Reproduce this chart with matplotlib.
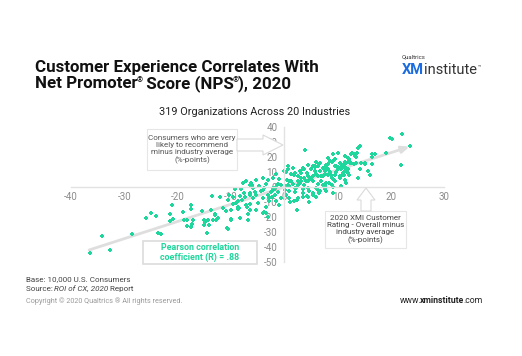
import matplotlib
matplotlib.use('Agg')
import matplotlib.pyplot as plt
from matplotlib.patches import Polygon, Rectangle

# ---------------- data ----------------
x_ticks = [-40, -30, -20, -10, 0, 10, 20, 30]
y_ticks = [40, 30, 20, 10, 0, -10, -20, -30, -40, -50]

cx_rating = [
    -36.5, -34.2, -32.6, -28.5, -26.0, -25.0, -24.0, -23.6, -23.2, -21.4, -21.0, -21.5, -20.8,
    -18.9, -18.7, -18.2, -17.4, -17.4, -15.5, -13.8, -18.3, -17.1, -17.2, -15.1, -13.0, -12.4,
    -14.1, -15.0, -14.3, -13.3, -10.8, -14.5, -13.5, -12.0, -10.6, -10.0, -10.0, -10.6, -11.5,
    -11.0, -12.9, -12.7, -14.9, -17.4, -10.3,
    -9.2, -7.2, -5.3, -6.5, -6.0, -9.6, -8.7, -8.4, -7.9, -7.0, -6.4, -8.3, -7.4, -6.4, -5.5,
    -5.2, -8.3, -6.7, -6.7, -9.1, -8.6, -9.9, -9.6,
    -7.8, -6.2, -4.0, -3.1, -2.1, -1.5, -0.9, -7.5, -6.5, -4.0, -2.8, -1.5, -0.6, -2.8, -3.4,
    -4.0, -5.3, -6.5, -3.4, -8.7, -8.1, -5.9, -4.7, -3.4, -2.1, -1.2, -5.0, -7.2, -1.8, -0.9,
    -4.3, -5.9,
    -0.6, -1.2, -1.8, -2.5, -3.1, -3.7, -4.0, -3.1, -3.7, -1.4, -2.0, -2.3, -0.1,
    0.8, 1.8, 0.5, 3.6, 5.4, 6.6, 7.6, 8.2, 8.8, 9.8, 10.4, 10.7, 5.4, 4.1, 3.2, 1.0, 2.0, 3.0,
    4.7, 6.0, 7.3, 8.5, 9.5, 10.4, 11.3, 6.6, 7.9, 9.1, 10.7, 11.7, 3.6, 2.4, 1.1, 2.4, 4.7, 6.0,
    8.2, 8.6, 7.9, 9.5, 10.1, 9.5, 10.8, 8.9, 8.2, 7.3, 6.9, 6.4, 5.7, 5.1, 4.5, 3.8, 3.2, 2.6,
    1.3, 0.7, 0.1, 2.0, 3.5, 4.5, 5.4, 6.4, 7.6, 8.9, 9.2, 6.7, 5.7, 5.1, 4.5, 3.8, 3.2, 2.6,
    0.7, 1.6, 2.1, 1.3, 0.4, 2.9, 3.5, 4.2, 4.5, 3.8, 2.6, 4.8, 5.4, 6.0, 6.4, 5.7, 6.7, 7.3,
    7.9, 8.2, 8.9, 9.2, 9.5, 10.1, 9.8, 8.6, 7.6, 7.0, 6.0, 1.0, 1.6, 2.3, 0.4, 1.0, 0.4, 1.0,
    1.9, 2.6, 4.2, 5.4, 6.7, 7.6, 3.5, 4.5, 6.4, 7.9, 9.2, 10.4, 11.1, 3.5,
    4.0, 9.2, 10.1, 11.4, 11.4, 10.8,
    12.5, 12.1, 11.5, 13.4, 13.9, 14.2, 13.3, 12.0, 11.7, 12.3, 11.4, 12.0, 11.4, 14.5, 15.2,
    15.8, 14.2, 16.4, 17.0, 16.4, 16.1, 13.8, 19.1, 19.9, 20.2, 22.2, 23.6, 21.9, 16.5, 15.1,
    13.7, 13.1, 12.8, 13.4, 12.1, 12.5, 11.2, 11.5, 11.8, 12.1, 11.9, 13.1,
]
recommend = [
    -44.4, -33.1, -42.2, -31.3, -20.6, -17.5, -19.7, -30.8, -31.5, -17.9, -12.2, -22.9, -21.8,
    -16.8, -22.4, -26.5, -12.2, -15.0, -16.1, -15.6, -22.0, -22.4, -25.2, -22.0, -19.0, -20.6,
    -25.4, -25.9, -22.4, -22.4, -27.4, -30.8, -6.1, -7.0, -8.8, -15.6, -21.3, -28.0, -14.5,
    -16.1, -18.3, -22.0, -23.6, -27.0, -5.6,
    -1.6, 3.6, 4.8, 1.4, 1.4, -11.8, -13.4, -14.5, -8.8, -13.4, -11.8, -6.1, -7.0, -4.3, -3.2,
    -5.4, -20.6, -22.0, -17.9, -11.1, -15.2, -22.0, -7.0,
    2.7, 2.7, 6.1, 4.3, 6.1, 8.4, 5.0, -4.1, -5.2, -7.5, -7.5, -9.8, -7.5, -9.8, -13.2,
    -17.7, -15.4, -15.4, -17.7, -9.8, -1.8, -0.7, 0.5, 1.6, -0.7, 1.6, -10.9, -12.0, -5.2, -12.0,
    -2.9, -7.5,
    1.4, -3.2, -0.9, -3.2, -5.4, -0.9, -2.0, -20.2, -16.8, 1.4, -2.0, -6.6, 10.4,
    11.6, 8.2, 4.8, 12.7, 13.8, 15.0, 10.4, 11.6, 8.2, 13.8, 16.1, 11.6, 7.0, 3.6, 5.9, 0.3, -0.9, 2.5,
    -3.1, -0.9, 1.4, 2.5, 3.6, 5.9, 8.2, -4.3, -3.1, -4.3, 0.3, 2.5, -6.6, -8.8, -9.9, -15.6, -9.9, -6.6,
    19.5, 17.2, 14.9, 18.4, 11.6, 8.2, 8.2, 5.9, 8.2, 7.0, 3.6, 7.0, 10.4, 5.9, 3.6, 1.4, 3.6, 1.4,
    3.6, 1.4, -2.0, -3.2, -4.3, -6.6, -5.4, -2.0, 0.3, 1.4, -0.2, 16.1, 13.8, 11.6, 14.9, 11.6, 9.3, 7.0,
    14.1, 12.5, 9.5, 8.4, 10.2, 10.7, 11.8, 9.5, 7.3, 6.1, 3.9, 5.0, 3.9, 16.3, 14.1, 12.9, 10.7, 12.5,
    13.4, 15.2, 16.3, 17.5, 14.1, 12.9, 10.2, 10.2, 8.4, 7.3, 8.4, 3.9, 1.6, -0.7, 0.5, -2.9, -5.2, -7.5,
    -9.8, -7.5, -6.3, -4.1, -2.9, -1.8, -1.8, -0.7, 1.6, 2.7, 5.0, 7.3, 9.5, -4.1,
    24.3, 22.0, 22.9, 16.3, 12.9, 14.0,
    22.0, 18.4, 20.7, 16.1, 26.1, 27.2, 20.7, 19.5, 16.1, 16.1, 10.4, 9.3, 4.8, 16.1, 15.0,
    10.4, 11.6, 21.8, 21.8, 15.0, 8.2, 5.9, 22.9, 32.9, 31.8, 35.6, 27.0, 14.6, 20.2, 16.1,
    22.9, 21.8, 22.9, 20.2, 17.2, 16.1, 15.0, 12.7, 10.4, 8.2, 11.6, 15.0,
]

trend_start = (-36.6, -42.3)
trend_end = (23.5, 26.8)

# ---------------- figure ----------------
W, H = 522, 356
plt.rcParams['font.family'] = ['Roboto', 'DejaVu Sans']
fig = plt.figure(figsize=(W / 100, H / 100), dpi=100)
fig.patch.set_facecolor('white')
renderer = fig.canvas.get_renderer()


def fx(x):
    return x / W


def fy(y):
    return 1 - y / H


def seq(x, y, pieces, kern=0.8):
    cur = x
    for s, kw in pieces:
        kw = dict(kw)
        dy = kw.pop('dy', 0)
        t = fig.text(fx(cur), fy(y - dy), s, va='baseline', ha='left', **kw)
        cur += t.get_window_extent(renderer).width - kern


GREEN = '#1fd69c'

ax = fig.add_axes([fx(71), fy(261.5), (444 - 71) / W, (261.5 - 127) / H])
ax.patch.set_alpha(0)
ax.set_xlim(-40, 30)
ax.set_ylim(-50, 40)
for s in ['top', 'right']:
    ax.spines[s].set_visible(False)
ax.spines['left'].set_position(('data', 0))
ax.spines['bottom'].set_position(('data', 0))
for s in ['left', 'bottom']:
    ax.spines[s].set_color('#e2e2e2')
    ax.spines[s].set_linewidth(1.0)
ax.set_xticks(x_ticks)
ax.set_yticks(y_ticks)
ax.set_xticklabels([str(v) for v in x_ticks])
ax.set_yticklabels([str(v) for v in y_ticks])
ax.tick_params(axis='x', length=0, labelsize=7, labelcolor='#8c8c8c', pad=4)
ax.tick_params(axis='y', length=0, labelsize=7, labelcolor='#8c8c8c', pad=5)

ax.annotate('', xy=trend_end, xytext=trend_start,
            arrowprops=dict(arrowstyle='-|>,head_length=0.45,head_width=0.2',
                            color='#dedede', lw=2.0, shrinkA=0, shrinkB=0),
            zorder=1)
ax.scatter(cx_rating, recommend, s=8, marker='P', color=GREEN, linewidths=0, zorder=2)

# ---------------- boxes and arrows ----------------
def box(x0, y0, x1, y1, ec='#e6e6e6', lw=0.8):
    fig.patches.append(Rectangle((fx(x0), fy(y1)), (x1 - x0) / W, (y1 - y0) / H,
                                 transform=fig.transFigure, fc='white', ec=ec, lw=lw, zorder=2))


def poly(pts):
    fig.patches.append(Polygon([(fx(a), fy(b)) for a, b in pts], closed=True,
                               transform=fig.transFigure, fc='white', ec='#dadada',
                               lw=0.8, zorder=2))


box(147, 129, 237, 170)
fig.text(fx(192), fy(149.5), 'Consumers who are very\nlikely to recommend\nminus industry average\n(%-points)',
         ha='center', va='center', fontsize=5.8, color='#555555', linespacing=1.15, zorder=4)
poly([(237, 139), (263, 139), (263, 135), (283, 145), (263, 155), (263, 151), (237, 151)])

box(325, 211, 406, 248)
fig.text(fx(365.5), fy(229.5), '2020 XMI Customer\nRating - Overall minus\nindustry average\n(%-points)',
         ha='center', va='center', fontsize=5.8, color='#444444', linespacing=1.15, zorder=4)
poly([(361, 211), (361, 200), (357, 200), (366, 188), (375, 200), (371, 200), (371, 211)])

box(143, 241, 257, 264, ec='#dcdcdc', lw=1.2)
fig.text(fx(200), fy(252.5), 'Pearson correlation\ncoefficient (R) = .88', ha='center', va='center',
         fontsize=6.4, fontweight='bold', color=GREEN, linespacing=1.2, zorder=4)

# ---------------- titles ----------------
tkw = dict(fontsize=12.2, fontweight='bold', color='#111111')
fig.text(fx(35), fy(72), 'Customer Experience Correlates With', va='baseline', **tkw)
sup = dict(fontsize=5.5, fontweight='bold', color='#111111', dy=5.5)
seq(35, 88, [('Net Promoter', tkw), ('®', sup), (' Score (NPS', tkw), ('®', sup), ('), 2020', tkw)])

fig.text(fx(255), fy(115), '319 Organizations Across 20 Industries', ha='center', va='baseline',
         fontsize=7.8, color='#222222')

# logo
fig.text(fx(402), fy(58), 'Qualtrics', fontsize=4.3, color='#333333', va='baseline')
seq(402, 74, [('XM', dict(fontsize=10.5, fontweight='bold', color='#1a6be0')),
              ('institute', dict(fontsize=10.5, color='#333333')),
              ('™', dict(fontsize=4, color='#333333', dy=6))], kern=-0.3)

# footer
fkw = dict(fontsize=5.8, color='#444444')
fig.text(fx(26), fy(281), 'Base: 10,000 U.S. Consumers', va='baseline', **fkw)
seq(26, 291, [('Source: ', fkw), ('ROI of CX, 2020', dict(fkw, style='italic')), (' Report', fkw)])
fig.text(fx(26), fy(303), 'Copyright © 2020 Qualtrics ® All rights reserved.', va='baseline',
         fontsize=5.2, color='#9a9a9a')
wkw = dict(fontsize=6.2, color='#222222')
seq(400, 303, [('www.', wkw), ('xminstitute', dict(wkw, fontweight='bold')), ('.com', wkw)], kern=1.5)

fig.savefig('out.png', dpi=100, facecolor='white')
